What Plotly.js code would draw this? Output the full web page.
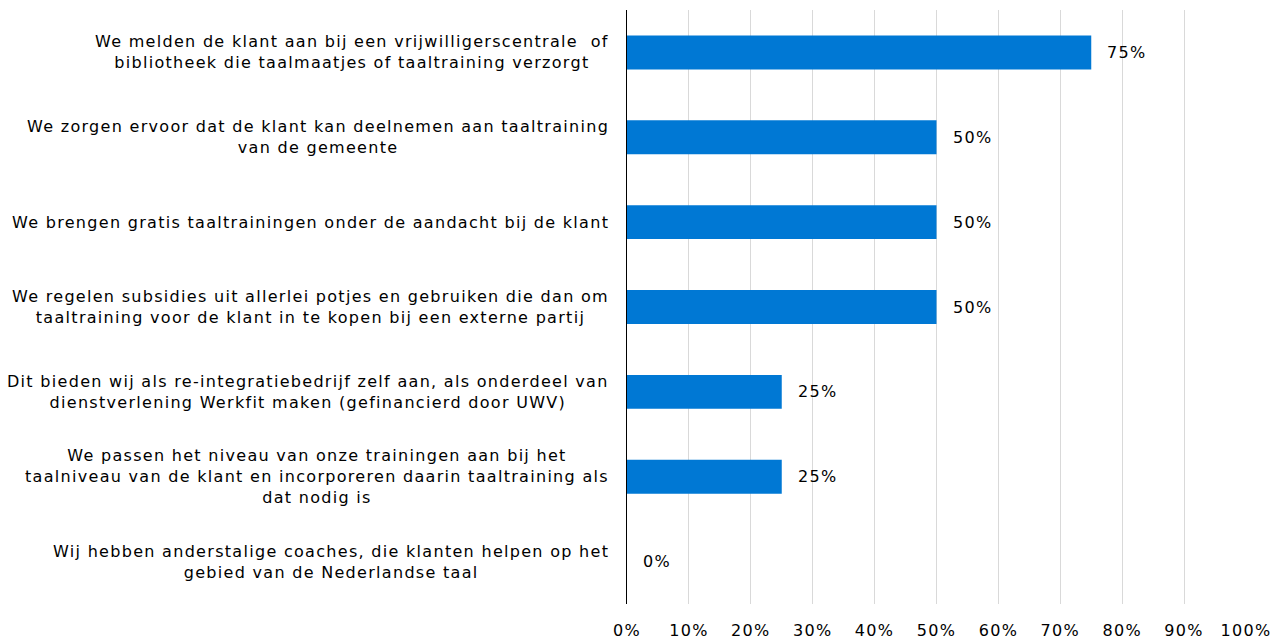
<!DOCTYPE html>
<html>
<head>
<meta charset="utf-8">
<script src="https://cdn.plot.ly/plotly-3.0.1.min.js"></script>
<style>
  html, body { margin: 0; padding: 0; background: #fff; }
  #chart { width: 1280px; height: 639px; }
  /* het origineel heeft een brede letter */
  svg text { letter-spacing: 1.3px; }
</style>
</head>
<body>
<div id="chart"></div>
<script>
// antwoorden (van boven naar beneden)
const categories = [
  'We melden de klant aan bij een vrijwilligerscentrale  of<br>bibliotheek die taalmaatjes of taaltraining verzorgt',
  'We zorgen ervoor dat de klant kan deelnemen aan taaltraining<br>van de gemeente',
  'We brengen gratis taaltrainingen onder de aandacht bij de klant',
  'We regelen subsidies uit allerlei potjes en gebruiken die dan om<br>taaltraining voor de klant in te kopen bij een externe partij',
  'Dit bieden wij als re-integratiebedrijf zelf aan, als onderdeel van<br>dienstverlening Werkfit maken (gefinancierd door UWV)',
  'We passen het niveau van onze trainingen aan bij het<br>taalniveau van de klant en incorporeren daarin taaltraining als<br>dat nodig is',
  'Wij hebben anderstalige coaches, die klanten helpen op het<br>gebied van de Nederlandse taal'
];
const values = [0.75, 0.50, 0.50, 0.50, 0.25, 0.25, 0];
const tickVals = [0, 0.1, 0.2, 0.3, 0.4, 0.5, 0.6, 0.7, 0.8, 0.9, 1];
const tickText = ['0%', '10%', '20%', '30%', '40%', '50%', '60%', '70%', '80%', '90%', '100%'];

const fontFam = 'Verdana, "DejaVu Sans", sans-serif';
const ids = categories.map((c, i) => 'c' + i);

const trace = {
  type: 'bar',
  orientation: 'h',
  x: values,
  y: ids,
  width: 0.4,
  marker: { color: '#0078d4' },
  hoverinfo: 'none'
};

const annotations = [];
ids.forEach((id, i) => {
  // categorie labels, gecentreerd per regel
  annotations.push({
    xref: 'paper', yref: 'y',
    x: 0, y: id,
    xanchor: 'right', yanchor: 'middle',
    xshift: -16,
    align: 'center',
    showarrow: false,
    text: categories[i],
    font: { family: fontFam, size: 16, color: '#000' }
  });
  // waardelabels
  annotations.push({
    xref: 'x', yref: 'y',
    x: values[i], y: id,
    xanchor: 'left', yanchor: 'middle',
    xshift: 14,
    showarrow: false,
    text: Math.round(values[i] * 100) + '%',
    font: { family: fontFam, size: 16, color: '#000' }
  });
});

const layout = {
  width: 1280,
  height: 639,
  margin: { l: 627, r: 34, t: 10, b: 35 },
  paper_bgcolor: '#fff',
  plot_bgcolor: '#fff',
  showlegend: false,
  font: { family: fontFam, size: 16, color: '#000' },
  xaxis: {
    range: [0, 1],
    tickvals: tickVals,
    ticktext: tickText,
    showgrid: true,
    gridcolor: '#d9d9d9',
    gridwidth: 1,
    zeroline: false,
    showline: false,
    ticks: '',
    ticklabelstandoff: 15,
    fixedrange: true
  },
  yaxis: {
    autorange: 'reversed',
    showticklabels: false,
    showgrid: false,
    zeroline: false,
    showline: true,
    linecolor: '#000',
    linewidth: 1,
    ticks: '',
    fixedrange: true
  },
  annotations: annotations
};

Plotly.newPlot('chart', [trace], layout, { displayModeBar: false, staticPlot: true });
</script>
</body>
</html>
